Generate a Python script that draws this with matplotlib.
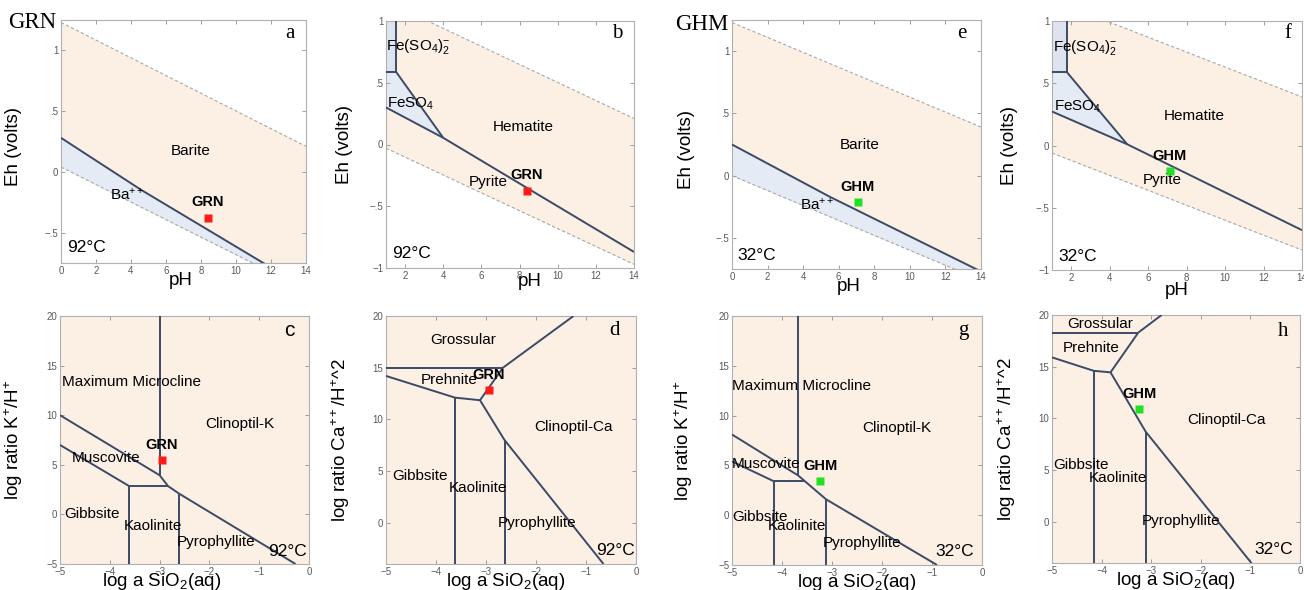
import numpy as np
import matplotlib
matplotlib.use('Agg')
import matplotlib.pyplot as plt

plt.rcParams['font.family'] = ['Liberation Sans', 'DejaVu Sans']
plt.rcParams['mathtext.fontset'] = 'custom'
plt.rcParams['mathtext.rm'] = 'Liberation Sans'
plt.rcParams['mathtext.it'] = 'Liberation Sans:italic'
plt.rcParams['mathtext.bf'] = 'Liberation Sans:bold'

# ---------------- data ----------------
# Panel a: Ba system, GRN, 92 C
a_upper_x = [0, 14]; a_upper_y = [1.23, 0.21]
a_lower_x = [0, 14]; a_lower_y = [0.04, -0.97]
a_bound_x = [0, 4.6, 14]; a_bound_y = [0.28, -0.15, -0.96]
a_sample = (8.4, -0.38)

# Panel b: Fe system, GRN, 92 C
b_upper_x = [1, 14]; b_upper_y = [1.16, 0.21]
b_lower_x = [1, 14]; b_lower_y = [-0.03, -0.97]
b_vert_x = [1.52, 1.52]; b_vert_y = [1.0, 0.59]
b_horiz_x = [1.0, 1.52]; b_horiz_y = [0.59, 0.59]
b_diag_x = [1.52, 4.0]; b_diag_y = [0.59, 0.054]
b_main_x = [1.0, 4.0, 14]; b_main_y = [0.30, 0.054, -0.87]
b_sample = (8.4, -0.375)

# Panel e: Ba system, GHM, 32 C
e_upper_x = [0, 14]; e_upper_y = [1.23, 0.39]
e_lower_x = [0, 14]; e_lower_y = [0.0, -0.84]
e_bound_x = [0, 5.5, 14]; e_bound_y = [0.25, -0.17, -0.77]
e_sample = (7.08, -0.21)

# Panel f: Fe system, GHM, 32 C
f_upper_x = [1, 14]; f_upper_y = [1.17, 0.39]
f_lower_x = [1, 14]; f_lower_y = [-0.06, -0.84]
f_vert_x = [1.78, 1.78]; f_vert_y = [1.0, 0.588]
f_horiz_x = [1.0, 1.78]; f_horiz_y = [0.588, 0.588]
f_diag_x = [1.78, 4.91]; f_diag_y = [0.588, 0.01]
f_main_x = [1.0, 4.91, 14]; f_main_y = [0.273, 0.01, -0.68]
f_sample = (7.12, -0.205)

# Panel c: K system, GRN, 92 C
c_lines = [
    ([-3.0, -3.0], [20, 3.95]),
    ([-5, -3.0, -2.83], [10, 3.95, 2.85]),
    ([-5, -3.61], [7.0, 2.85]),
    ([-3.61, -2.83], [2.85, 2.85]),
    ([-3.61, -3.61], [2.85, -5]),
    ([-2.83, -2.61], [2.85, 2.1]),
    ([-2.61, -2.61], [2.1, -5]),
    ([-2.61, -2.15, -0.27], [2.1, 0.7, -5]),
]
c_sample = (-2.95, 5.5)

# Panel d: Ca system, GRN, 92 C
d_lines = [
    ([-5, -2.66], [15, 15]),
    ([-2.66, -1.25], [15, 20]),
    ([-2.66, -3.12], [15, 11.85]),
    ([-5, -3.62, -3.12], [14.2, 12.1, 11.85]),
    ([-3.62, -3.62], [12.1, -4]),
    ([-3.12, -2.63, -0.65], [11.85, 8.0, -4]),
    ([-2.63, -2.63], [8.0, -4]),
]
d_sample = (-2.95, 12.8)

# Panel g: K system, GHM, 32 C
g_lines = [
    ([-3.68, -3.68], [20, 4.0]),
    ([-5, -3.68, -3.54, -3.12, -0.9], [8.1, 4.0, 3.4, 1.6, -5]),
    ([-5, -4.16], [5.4, 3.4]),
    ([-4.16, -3.54], [3.4, 3.4]),
    ([-4.16, -4.16], [3.4, -5]),
    ([-3.12, -3.12], [1.6, -5]),
]
g_sample = (-3.24, 3.44)

# Panel h: Ca system, GHM, 32 C
h_lines = [
    ([-5, -3.26], [18.3, 18.3]),
    ([-3.26, -2.79], [18.3, 20]),
    ([-3.26, -3.82], [18.3, 14.45]),
    ([-5, -4.16, -3.82], [15.9, 14.6, 14.45]),
    ([-4.16, -4.16], [14.6, -4]),
    ([-3.82, -3.11, -0.98], [14.45, 8.7, -4]),
    ([-3.11, -3.11], [8.7, -4]),
]
h_sample = (-3.24, 10.9)

eh_ticks_a = [1, 0.5, 0, -0.5]; eh_labels_a = ['1', '.5', '0', '\u2212.5']
eh_ticks_b = [1, 0.5, 0, -0.5, -1]; eh_labels_b = ['1', '.5', '0', '\u2212.5', '\u22121']
ph_ticks_a = [0, 2, 4, 6, 8, 10, 12, 14]
ph_ticks_b = [2, 4, 6, 8, 10, 12, 14]
si_ticks = [-5, -4, -3, -2, -1, 0]
si_labels = ['\u22125', '\u22124', '\u22123', '\u22122', '\u22121', '0']
k_ticks = [-5, 0, 5, 10, 15, 20]
ca_ticks = [0, 5, 10, 15, 20]

# ---------------- style ----------------
PEACH = '#fcefe4'
BLUE = '#e5ebf5'
BLUE2 = '#dde4f0'
LINE = '#3b4a66'
DASH = '#a8a8a8'
TICKC = '#5a5a5a'
RED = '#ff1a1a'
GREEN = '#22e022'

W, H = 1304, 590
fig = plt.figure(figsize=(W / 100, H / 100), dpi=100)


def add_ax(l, r, t, b):
    return fig.add_axes([l / W, 1 - b / H, (r - l) / W, (b - t) / H])


def style(ax):
    for s in ax.spines.values():
        s.set_color('#b0b0b0')
        s.set_linewidth(0.8)
    ax.tick_params(direction='in', top=True, right=True, length=3, width=0.6,
                   color='#909090', labelsize=7, labelcolor=TICKC, pad=2)


def solid(ax, x, y):
    ax.plot(x, y, color=LINE, lw=1.4, solid_capstyle='butt', zorder=3)


def dashed(ax, x, y):
    ax.plot(x, y, color=DASH, lw=0.8, ls=(0, (3, 2)), zorder=2)


def eh_panel(ax, xlim, ylim, up, lo):
    ax.set_xlim(*xlim); ax.set_ylim(*ylim)
    xs = np.linspace(xlim[0], xlim[1], 200)
    yu = np.interp(xs, up[0], up[1])
    yl = np.interp(xs, lo[0], lo[1])
    ax.fill_between(xs, yl, yu, color=PEACH, lw=0, zorder=0)
    dashed(ax, *up); dashed(ax, *lo)
    return xs, yl


serif = ['Liberation Serif', 'DejaVu Serif']

# ---- panel a ----
ax = add_ax(61, 306, 20, 263)
xs, yl = eh_panel(ax, (0, 14), (-0.75, 1.25), (a_upper_x, a_upper_y), (a_lower_x, a_lower_y))
yb = np.interp(xs, a_bound_x, a_bound_y)
ax.fill_between(xs, np.maximum(yl, -0.75), yb, where=yb > np.maximum(yl, -0.75), color=BLUE, lw=0, zorder=1)
solid(ax, a_bound_x, a_bound_y)
ax.plot(*a_sample, 's', color=RED, ms=6, mec='none', zorder=5)
ax.text(a_sample[0], a_sample[1] + 0.13, 'GRN', fontsize=10.5, fontweight='bold', ha='center', va='center')
ax.text(7.4, 0.17, 'Barite', fontsize=11, ha='center', va='center')
ax.text(3.8, -0.19, 'Ba$^{++}$', fontsize=11, ha='center', va='center')
ax.text(0.35, -0.62, '92°C', fontsize=12.5, ha='left', va='center')
ax.text(13.1, 1.14, 'a', fontsize=15, family=serif, ha='center', va='center')
ax.set_xticks(ph_ticks_a); ax.set_yticks(eh_ticks_a); ax.set_yticklabels(eh_labels_a)
style(ax)
ax.set_ylabel('Eh (volts)', fontsize=13.5); ax.yaxis.set_label_coords(-0.16, 0.48)
ax.set_xlabel('pH', fontsize=13.5); ax.xaxis.set_label_coords(0.49, -0.035)
fig.text(32 / W, 1 - 23 / H, 'GRN', fontsize=16.5, family=serif, ha='center', va='center')

# ---- panel b ----
ax = add_ax(386, 634, 21, 268)
eh_panel(ax, (1, 14), (-1, 1), (b_upper_x, b_upper_y), (b_lower_x, b_lower_y))
fe2_x = b_horiz_x + b_vert_x[::-1] + [b_horiz_x[0]]
fe2_y = b_horiz_y + b_vert_y[::-1] + [b_vert_y[0]]
ax.fill(fe2_x, fe2_y, color=BLUE2, lw=0, zorder=1)
fes_x = b_main_x[:2] + b_diag_x[::-1] + b_horiz_x[::-1]
fes_y = b_main_y[:2] + b_diag_y[::-1] + b_horiz_y[::-1]
ax.fill(fes_x, fes_y, color=BLUE, lw=0, zorder=1)
for xx, yy in [(b_vert_x, b_vert_y), (b_horiz_x, b_horiz_y), (b_diag_x, b_diag_y), (b_main_x, b_main_y)]:
    solid(ax, xx, yy)
ax.plot(*b_sample, 's', color=RED, ms=6, mec='none', zorder=5)
ax.text(b_sample[0] - 0.05, b_sample[1] + 0.13, 'GRN', fontsize=10.5, fontweight='bold', ha='center', va='center')
ax.text(6.36, -0.30, 'Pyrite', fontsize=11, ha='center', va='center')
ax.text(8.2, 0.14, 'Hematite', fontsize=11, ha='center', va='center')
ax.text(1.03, 0.33, 'FeSO$_4$', fontsize=11, ha='left', va='center')
ax.text(1.0, 0.79, 'Fe(SO$_4$)$_2^{-}$', fontsize=11, ha='left', va='center')
ax.text(1.3, -0.88, '92°C', fontsize=12.5, ha='left', va='center')
ax.text(13.1, 0.9, 'b', fontsize=15, family=serif, ha='center', va='center')
ax.set_xticks(ph_ticks_b); ax.set_yticks(eh_ticks_b); ax.set_yticklabels(eh_labels_b)
style(ax)
ax.set_ylabel('Eh (volts)', fontsize=13.5); ax.yaxis.set_label_coords(-0.133, 0.5)
ax.set_xlabel('pH', fontsize=13.5); ax.xaxis.set_label_coords(0.58, -0.02)

# ---- panel e ----
ax = add_ax(732, 981, 20, 269)
xs, yl = eh_panel(ax, (0, 14), (-0.75, 1.25), (e_upper_x, e_upper_y), (e_lower_x, e_lower_y))
yb = np.interp(xs, e_bound_x, e_bound_y)
ax.fill_between(xs, np.maximum(yl, -0.75), yb, where=yb > np.maximum(yl, -0.75), color=BLUE, lw=0, zorder=1)
solid(ax, e_bound_x, e_bound_y)
ax.plot(*e_sample, 's', color=GREEN, ms=6, mec='none', zorder=5)
ax.text(e_sample[0], e_sample[1] + 0.12, 'GHM', fontsize=10.5, fontweight='bold', ha='center', va='center')
ax.text(7.17, 0.245, 'Barite', fontsize=11, ha='center', va='center')
ax.text(4.8, -0.23, 'Ba$^{++}$', fontsize=11, ha='center', va='center')
ax.text(0.3, -0.64, '32°C', fontsize=12.5, ha='left', va='center')
ax.text(12.9, 1.14, 'e', fontsize=15, family=serif, ha='center', va='center')
ax.set_xticks(ph_ticks_a); ax.set_yticks(eh_ticks_a); ax.set_yticklabels(eh_labels_a)
style(ax)
ax.set_ylabel('Eh (volts)', fontsize=13.5); ax.yaxis.set_label_coords(-0.148, 0.48)
ax.set_xlabel('pH', fontsize=13.5); ax.xaxis.set_label_coords(0.47, -0.036)
fig.text(702 / W, 1 - 24 / H, 'GHM', fontsize=16.5, family=serif, ha='center', va='center')

# ---- panel f ----
ax = add_ax(1052, 1302, 21, 270)
eh_panel(ax, (1, 14), (-1, 1), (f_upper_x, f_upper_y), (f_lower_x, f_lower_y))
fe2_x = f_horiz_x + f_vert_x[::-1] + [f_horiz_x[0]]
fe2_y = f_horiz_y + f_vert_y[::-1] + [f_vert_y[0]]
ax.fill(fe2_x, fe2_y, color=BLUE2, lw=0, zorder=1)
fes_x = f_main_x[:2] + f_diag_x[::-1] + f_horiz_x[::-1]
fes_y = f_main_y[:2] + f_diag_y[::-1] + f_horiz_y[::-1]
ax.fill(fes_x, fes_y, color=BLUE, lw=0, zorder=1)
for xx, yy in [(f_vert_x, f_vert_y), (f_horiz_x, f_horiz_y), (f_diag_x, f_diag_y), (f_main_x, f_main_y)]:
    solid(ax, xx, yy)
ax.plot(*f_sample, 's', color=GREEN, ms=6, mec='none', zorder=5)
ax.text(f_sample[0], f_sample[1] + 0.12, 'GHM', fontsize=10.5, fontweight='bold', ha='center', va='center')
ax.text(6.74, -0.275, 'Pyrite', fontsize=11, ha='center', va='center')
ax.text(8.4, 0.24, 'Hematite', fontsize=11, ha='center', va='center')
ax.text(1.1, 0.31, 'FeSO$_4$', fontsize=11, ha='left', va='center')
ax.text(1.03, 0.79, 'Fe(SO$_4$)$_2^{-}$', fontsize=11, ha='left', va='center')
ax.text(1.35, -0.89, '32°C', fontsize=12.5, ha='left', va='center')
ax.text(13.26, 0.9, 'f', fontsize=15, family=serif, ha='center', va='center')
ax.set_xticks(ph_ticks_b); ax.set_yticks(eh_ticks_b); ax.set_yticklabels(eh_labels_b)
style(ax)
ax.set_ylabel('Eh (volts)', fontsize=13.5); ax.yaxis.set_label_coords(-0.136, 0.5)
ax.set_xlabel('pH', fontsize=13.5); ax.xaxis.set_label_coords(0.5, -0.048)


def act_panel(rect, ylim, lines, sample, color, name, labels, letter, letter_xy, letter_font,
              ylabel, ylab_x, xlab_x, yticks):
    ax = add_ax(*rect)
    ax.set_facecolor(PEACH)
    ax.set_xlim(-5, 0); ax.set_ylim(*ylim)
    for xx, yy in lines:
        solid(ax, xx, yy)
    ax.plot(*sample, 's', color=color, ms=6, mec='none', zorder=5)
    ax.text(sample[0], sample[1] + 1.45, name, fontsize=10.5, fontweight='bold', ha='center', va='center', zorder=6)
    for txt, x, y, ha, fs in labels:
        ax.text(x, y, txt, fontsize=fs, ha=ha, va='center', zorder=6)
    ax.text(letter_xy[0], letter_xy[1], letter, fontsize=15, family=letter_font, ha='center', va='center')
    ax.set_xticks(si_ticks); ax.set_xticklabels(si_labels); ax.set_yticks(yticks)
    style(ax)
    ax.set_ylabel(ylabel, fontsize=13.5); ax.yaxis.set_label_coords(ylab_x, 0.5)
    ax.set_xlabel('log a SiO$_2$(aq)', fontsize=13.5); ax.xaxis.set_label_coords(xlab_x, -0.03)
    return ax


k_label = 'log ratio K$^{+}$/H$^{+}$'
ca_label = 'log ratio Ca$^{++}$/H$^{+}$^2'

act_panel((60, 309, 316, 564), (-5, 20), c_lines, c_sample, RED, 'GRN',
          [('Maximum Microcline', -4.95, 13.3, 'left', 11), ('Clinoptil-K', -1.39, 9.15, 'center', 11),
           ('Muscovite', -4.77, 5.7, 'left', 11), ('Gibbsite', -4.91, 0.0, 'left', 11),
           ('Kaolinite', -3.72, -1.14, 'left', 11), ('Pyrophyllite', -2.65, -2.75, 'left', 11),
           ('92°C', -0.82, -3.69, 'left', 12.5)],
          'c', (-0.4, 18.5), ['Liberation Sans'], k_label, -0.14, 0.41, k_ticks)

act_panel((386, 636, 316, 564), (-4, 20), d_lines, d_sample, RED, 'GRN',
          [('Grossular', -3.45, 17.7, 'center', 11), ('Prehnite', -4.31, 13.8, 'left', 11),
           ('Clinoptil-Ca', -1.25, 9.3, 'center', 11), ('Gibbsite', -4.88, 4.5, 'left', 11),
           ('Kaolinite', -3.75, 3.4, 'left', 11), ('Pyrophyllite', -2.77, 0.0, 'left', 11),
           ('92°C', -0.8, -2.66, 'left', 12.5)],
          'd', (-0.42, 18.6), serif, ca_label, -0.136, 0.48, ca_ticks)

act_panel((732, 982, 316, 565), (-5, 20), g_lines, g_sample, GREEN, 'GHM',
          [('Maximum Microcline', -5.0, 13.0, 'left', 11), ('Clinoptil-K', -1.7, 8.8, 'center', 11),
           ('Muscovite', -5.0, 5.1, 'left', 11), ('Gibbsite', -5.0, -0.17, 'left', 11),
           ('Kaolinite', -4.28, -1.07, 'left', 11), ('Pyrophyllite', -3.19, -2.84, 'left', 11),
           ('32°C', -0.94, -3.6, 'left', 12.5)],
          'g', (-0.37, 18.5), serif, k_label, -0.148, 0.5, k_ticks)

act_panel((1052, 1300, 315, 563), (-4, 20), h_lines, h_sample, GREEN, 'GHM',
          [('Grossular', -4.02, 19.1, 'center', 11), ('Prehnite', -4.2, 16.8, 'center', 11),
           ('Clinoptil-Ca', -1.48, 9.84, 'center', 11), ('Gibbsite', -4.98, 5.5, 'left', 11),
           ('Kaolinite', -4.26, 4.26, 'left', 11), ('Pyrophyllite', -3.2, 0.06, 'left', 11),
           ('32°C', -0.92, -2.65, 'left', 12.5)],
          'h', (-0.34, 18.4), serif, ca_label, -0.137, 0.5, ca_ticks)

fig.savefig('out.png', dpi=100)
